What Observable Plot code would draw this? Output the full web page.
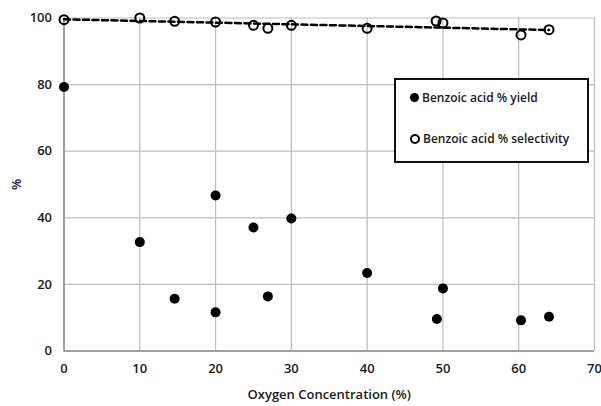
<!DOCTYPE html>
<html>
<head>
<meta charset="utf-8">
<script src="https://cdn.jsdelivr.net/npm/d3@7"></script>
<script src="https://cdn.jsdelivr.net/npm/@observablehq/plot@0.6"></script>
<style>
  html, body { margin: 0; padding: 0; background: #fff; }
  #wrap { position: relative; width: 601px; height: 406px; font-family: "Open Sans", sans-serif; }
  #legend {
    position: absolute; left: 394px; top: 78px; width: 191px; height: 81px;
    border: 2px solid #111; background: #fff; box-sizing: content-box;
    font-size: 12px; color: #1a1a1a; font-weight: 600;
  }
  .item { position: absolute; left: 14px; display: flex; align-items: center; white-space: nowrap; }
  .dot { width: 9px; height: 9px; border-radius: 50%; background: #000; margin-right: 3px; box-sizing: border-box; }
  .ring { width: 10px; height: 10px; border-radius: 50%; border: 2px solid #000; margin-right: 3px; box-sizing: border-box; }
</style>
</head>
<body>
<div id="wrap">
  <div id="chart"></div>
  <div id="legend">
    <div class="item" style="top:9px"><span class="dot"></span><span id="l1"></span></div>
    <div class="item" style="top:50px"><span class="ring"></span><span id="l2"></span></div>
  </div>
</div>
<script>
const xTicks = [0, 10, 20, 30, 40, 50, 60, 70];
const yTicks = [0, 20, 40, 60, 80, 100];

const yieldX = [0, 10, 14.6, 20, 20, 25, 26.9, 30, 40, 49.2, 50, 60.3, 64];
const yieldY = [79.3, 32.7, 15.7, 46.7, 11.6, 37.1, 16.4, 39.8, 23.4, 9.6, 18.8, 9.2, 10.3];

const selX = [0, 10, 14.6, 20, 25, 26.9, 30, 40, 49.1, 50, 60.3, 64];
const selY = [99.5, 100, 99.0, 98.8, 97.8, 96.9, 97.8, 96.9, 99.1, 98.5, 94.9, 96.5];

const seriesNames = ["Benzoic acid % yield", "Benzoic acid % selectivity"];
const xLabel = "Oxygen Concentration (%)";
const yLabel = "%";

const yieldData = yieldX.map((x, i) => ({x, y: yieldY[i]}));
const selData = selX.map((x, i) => ({x, y: selY[i]}));

const chart = Plot.plot({
  width: 601,
  height: 406,
  marginLeft: 63.5,
  marginRight: 7,
  marginTop: 17.5,
  marginBottom: 55.5,
  style: {fontFamily: "Open Sans, sans-serif", fontSize: "13px", color: "#1a1a1a", background: "#fff", fontWeight: 600},
  x: {domain: [0, 70]},
  y: {domain: [0, 100]},
  marks: [
    Plot.gridX(xTicks, {stroke: "#bdbdbd", strokeOpacity: 1, strokeWidth: 1.2}),
    Plot.gridY(yTicks, {stroke: "#bdbdbd", strokeOpacity: 1, strokeWidth: 1.2}),
    Plot.ruleX([0], {stroke: "#a0a0a0", strokeWidth: 2}),
    Plot.ruleY([0], {stroke: "#a0a0a0", strokeWidth: 2}),
    Plot.axisX(xTicks, {tickSize: 0, tickPadding: 13, fontSize: 13, label: xLabel, labelAnchor: "center", labelArrow: "none", labelOffset: 48, fill: "#1a1a1a"}),
    Plot.axisY(yTicks, {tickSize: 0, tickPadding: 12, fontSize: 13, label: yLabel, labelAnchor: "center", labelArrow: "none", labelOffset: 52, fill: "#1a1a1a"}),
    Plot.linearRegressionY(selData, {x: "x", y: "y", ci: 0, stroke: "#000", strokeWidth: 2.5, strokeDasharray: "6,3.5"}),
    Plot.dot(selData, {x: "x", y: "y", r: 4.5, stroke: "#000", strokeWidth: 2, fill: "none"}),
    Plot.dot(yieldData, {x: "x", y: "y", r: 5, fill: "#000", stroke: "none"})
  ]
});
document.getElementById("chart").appendChild(chart);
document.getElementById("l1").textContent = seriesNames[0];
document.getElementById("l2").textContent = seriesNames[1];
</script>
</body>
</html>
